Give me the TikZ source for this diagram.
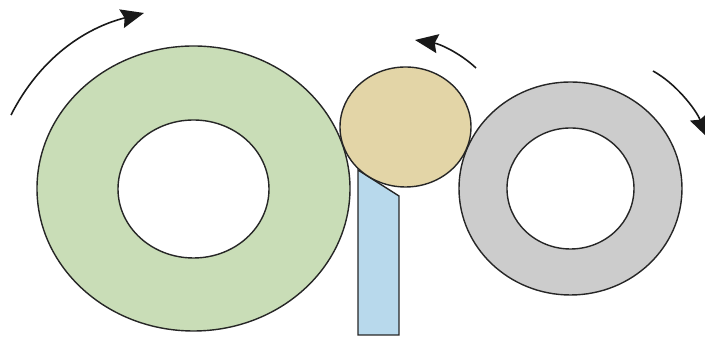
\documentclass[tikz,border=0pt]{standalone}
\usetikzlibrary{arrows.meta}
\definecolor{rollgreen}{RGB}{201,221,183}
\definecolor{rollgray}{RGB}{204,204,204}
\definecolor{rolltan}{RGB}{227,213,167}
\definecolor{bladeblue}{RGB}{184,217,236}
\begin{document}
\begin{tikzpicture}[
  outline/.style={draw=black!85,line width=0.8pt},
  turn/.style={-{Stealth[length=4.6mm,width=3.8mm,inset=0.6mm]},black!90,line width=0.9pt}]
\useasboundingbox (0,0) rectangle (14.1,6.76);
% grosse Rolle links
\path[outline,fill=rollgreen] (3.87,2.99) ellipse (3.13 and 2.85);
\path[outline,fill=white] (3.87,2.98) ellipse (1.51 and 1.38);
% Rolle rechts
\path[outline,fill=rollgray] (11.41,2.99) ellipse (2.23 and 2.13);
\path[outline,fill=white] (11.41,2.99) ellipse (1.27 and 1.21);
% Klinge
\path[outline,fill=bladeblue] (7.16,3.36) -- (7.16,0.06) -- (7.98,0.06) -- (7.98,2.84) -- cycle;
% kleine Rolle oben
\path[outline,fill=rolltan] (8.11,4.22) ellipse (1.31 and 1.20);
% Drehrichtungen
\draw[turn] (0.22,4.46) .. controls (0.80,5.60) and (1.70,6.20) .. (2.88,6.50);
\draw[turn] (9.52,5.40) .. controls (9.20,5.70) and (8.80,5.88) .. (8.30,5.96);
\draw[turn] (13.06,5.34) .. controls (13.50,5.10) and (13.90,4.60) .. (14.16,4.00);
\end{tikzpicture}
\end{document}
